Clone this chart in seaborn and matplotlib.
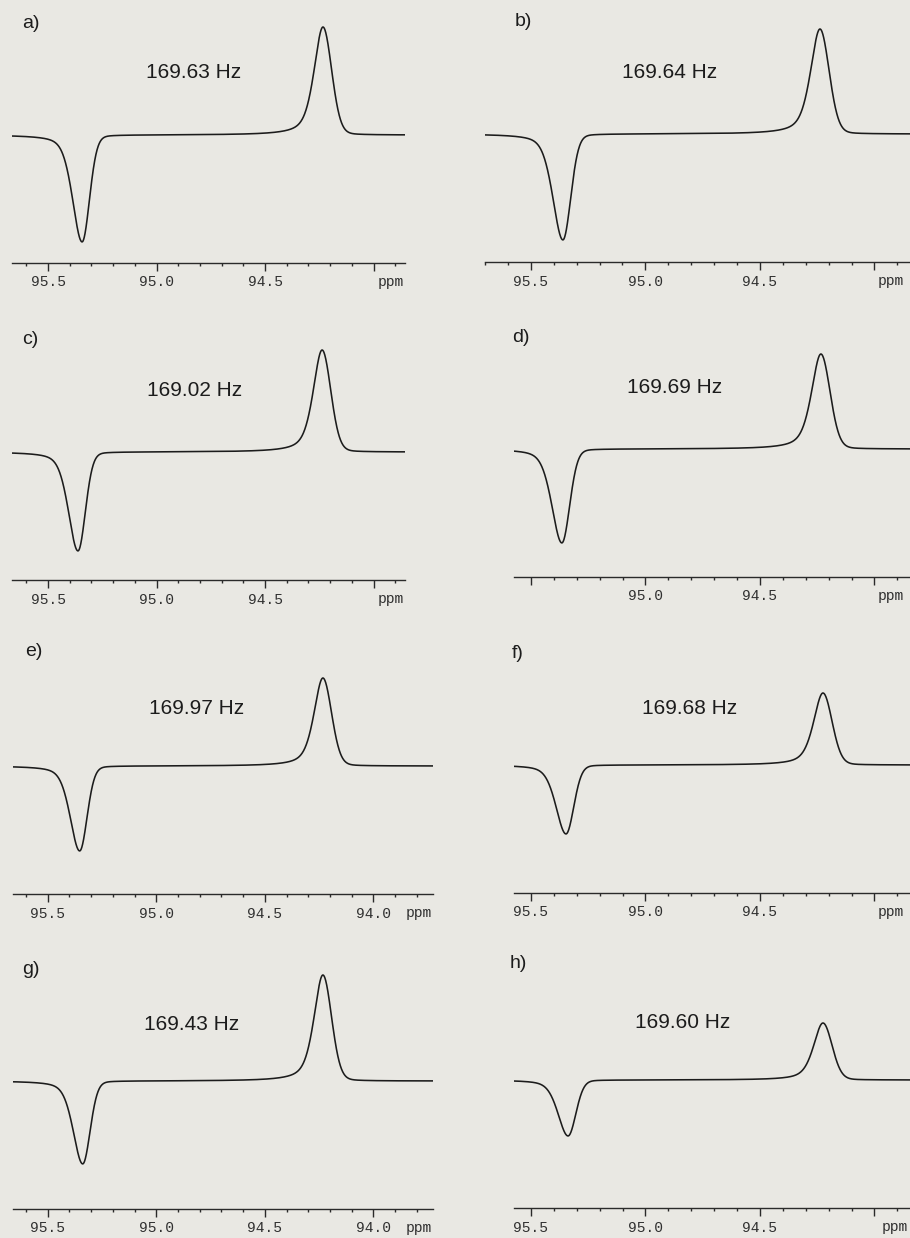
import numpy as np
import pandas as pd
import matplotlib
matplotlib.use("Agg")
import matplotlib.pyplot as plt
from matplotlib.ticker import MultipleLocator, FixedLocator, FixedFormatter
import seaborn as sns

# ---- spectra: peak positions (ppm) and signed intensities ----
panels = ["a", "b", "c", "d", "e", "f", "g", "h"]
couplings = ["169.63 Hz", "169.64 Hz", "169.02 Hz", "169.69 Hz",
             "169.97 Hz", "169.68 Hz", "169.43 Hz", "169.60 Hz"]
neg_ppm = [95.343, 95.360, 95.362, 95.365, 95.353, 95.347, 95.339, 95.338]
pos_ppm = [94.233, 94.238, 94.237, 94.234, 94.233, 94.225, 94.233, 94.225]
neg_int = [-107, -106, -99, -94, -85, -69, -83, -56]
pos_int = [108, 105, 102, 95, 88, 72, 106, 57]

# labelled major ticks on each ppm axis
tick_labels = [
    ["95.5", "95.0", "94.5"],
    ["95.5", "95.0", "94.5"],
    ["95.5", "95.0", "94.5"],
    ["95.0", "94.5"],
    ["95.5", "95.0", "94.5", "94.0"],
    ["95.5", "95.0", "94.5"],
    ["95.5", "95.0", "94.5", "94.0"],
    ["95.5", "95.0", "94.5"],
]

# line-shape constants (half widths in ppm, Lorentzian fraction) for the
# high-ppm and low-ppm flanks of each multiplet line
NEG_SHAPE = dict(hl=0.052, hr=0.040, el=0.40, er=0.10)
POS_SHAPE = dict(hl=0.049, hr=0.047, el=0.55, er=0.10)


def line_shape(x, c, amp, hl, hr, el, er):
    d = x - c
    h = np.where(d > 0, hl, hr)
    e = np.where(d > 0, el, er)
    u = (d / h) ** 2
    return amp * (e / (1 + u) + (1 - e) * np.exp(-np.log(2) * u))


ppm = np.linspace(95.80, 93.65, 2400)
frames = []
for i, p in enumerate(panels):
    y = (line_shape(ppm, neg_ppm[i], neg_int[i], **NEG_SHAPE)
         + line_shape(ppm, pos_ppm[i], pos_int[i], **POS_SHAPE))
    frames.append(pd.DataFrame({"panel": p, "ppm": ppm, "intensity": y}))
spectra = pd.concat(frames, ignore_index=True)

# ---- layout (pixels) ----
W, H = 910, 1238
BG = "#e9e8e3"
INK = "#1c1c1c"

sns.set_theme(style="white")
plt.rcParams["font.family"] = ["Liberation Sans", "DejaVu Sans"]

ax_left = [12, 485, 12, 514, 13, 514, 13, 514]
ax_right = [405, 910, 405, 910, 433, 910, 433, 910]
spine_y = [263, 262, 580, 577, 894, 893, 1209, 1208]
xlims = [(95.666, 93.855), (95.70, 93.845), (95.666, 93.855), (95.574, 93.845),
         (95.66, 93.726), (95.574, 93.845), (95.66, 93.726), (95.574, 93.845)]
ppm_unit_x = [93.92, 93.93, 93.92, 93.93, 93.79, 93.93, 93.79, 93.91]
label_xy = [(22, 24), (515, 22), (22, 340), (512, 337),
            (25, 651), (512, 654), (22, 970), (510, 964)]
hz_xy = [(194, 72), (670, 72), (195, 390), (675, 388),
         (197, 708), (690, 708), (192, 1024), (683, 1023)]
AX_H = 250

fig = plt.figure(figsize=(W / 100, H / 100), dpi=100, facecolor=BG)

for i, p in enumerate(panels):
    rect = [ax_left[i] / W, 1 - spine_y[i] / H,
            (ax_right[i] - ax_left[i]) / W, AX_H / H]
    ax = fig.add_axes(rect)
    ax.set_facecolor("none")
    sns.lineplot(data=spectra[spectra["panel"] == p], x="ppm", y="intensity",
                 ax=ax, color=INK, linewidth=1.15, sort=False)
    ax.set_xlim(*xlims[i])
    ax.set_ylim(-128, AX_H - 128)

    for s in ("top", "left", "right"):
        ax.spines[s].set_visible(False)
    ax.spines["bottom"].set_color("#2a2a2a")
    ax.spines["bottom"].set_linewidth(1.0)
    ax.set_yticks([])
    ax.set_xlabel("")
    ax.set_ylabel("")

    majors = [95.5, 95.0, 94.5, 94.0]
    labels = [t if t in tick_labels[i] else "" for t in ["95.5", "95.0", "94.5", "94.0"]]
    ax.xaxis.set_major_locator(FixedLocator(majors))
    ax.xaxis.set_major_formatter(FixedFormatter(labels))
    ax.xaxis.set_minor_locator(MultipleLocator(0.1))
    ax.tick_params(axis="x", which="major", direction="out", length=5.5,
                   width=1.0, color="#2a2a2a", pad=3.5, labelsize=10.5,
                   labelcolor="#303030", bottom=True)
    ax.tick_params(axis="x", which="minor", direction="out", length=2.2,
                   width=1.0, color="#2a2a2a", bottom=True)
    for lab in ax.get_xticklabels():
        lab.set_fontfamily(["Liberation Mono", "DejaVu Sans Mono"])

    ax.annotate("ppm", xy=(ppm_unit_x[i], 0), xycoords=("data", "axes fraction"),
                xytext=(0, -14), textcoords="offset points", ha="center",
                va="center", fontsize=10.5, color="#303030",
                family=["Liberation Mono", "DejaVu Sans Mono"])

    lx, ly = label_xy[i]
    fig.text(lx / W, 1 - ly / H, f"{p})", ha="left", va="center",
             fontsize=14, color=INK)
    hx, hy = hz_xy[i]
    fig.text(hx / W, 1 - hy / H, couplings[i], ha="center", va="center",
             fontsize=15, color=INK)

fig.savefig("out.png", dpi=100, facecolor=BG)
